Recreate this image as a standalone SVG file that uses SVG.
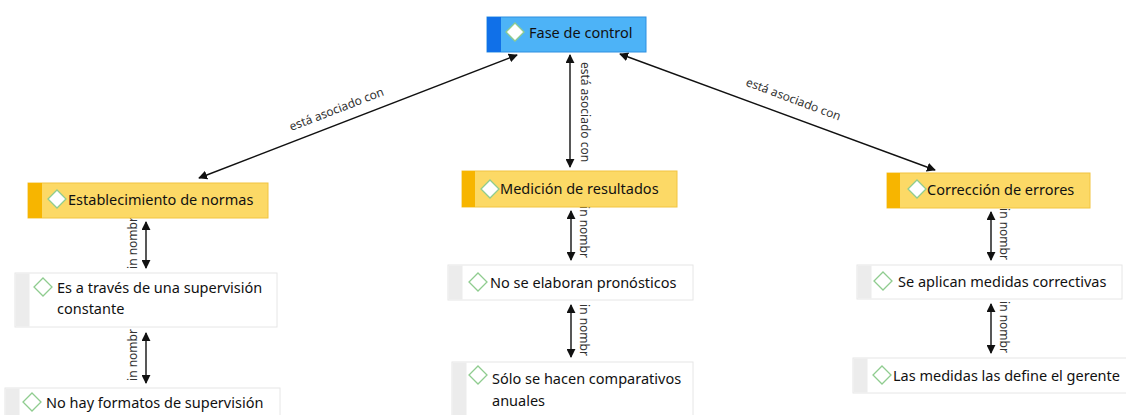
<svg xmlns="http://www.w3.org/2000/svg" width="1126" height="415" viewBox="0 0 1126 415">
<defs>
<marker id="ah" viewBox="0 0 10 10" refX="9" refY="5" markerWidth="9" markerHeight="9" markerUnits="userSpaceOnUse" orient="auto-start-reverse">
<path d="M0,0 L10,5 L0,10 z" fill="#111"/>
</marker>
</defs>
<style>
text{font-family:"Noto Sans","Open Sans","Liberation Sans",sans-serif}
.t{font-size:14.5px;fill:#111}
.l{font-size:12px;fill:#333}
.blue{fill:#4db3f7;stroke:#2f8fe0;stroke-width:1}
.bstrip{fill:#1070e8}
.yel{fill:#fcd966;stroke:#f2c440;stroke-width:1}
.ystrip{fill:#f7b500}
.wht{fill:#ffffff;stroke:#e6e6e6;stroke-width:1}
.wstrip{fill:#ececec}
.dia{fill:#ffffff;stroke:#8fcc8f;stroke-width:1.3}
.c{stroke:#111;stroke-width:1.4;fill:none;marker-start:url(#ah);marker-end:url(#ah)}
</style>
<rect width="1126" height="415" fill="#ffffff"/>
<g id="connectors">
<line class="c" x1="517" y1="55" x2="199" y2="178"/>
<text class="l" transform="translate(338,113) rotate(-21)" text-anchor="middle">está asociado con</text>
<line class="c" x1="570" y1="55" x2="570" y2="167"/>
<text class="l" transform="translate(581,112) rotate(90)" text-anchor="middle">está asociado con</text>
<line class="c" x1="620" y1="54" x2="935" y2="170"/>
<text class="l" transform="translate(792,103) rotate(20.5)" text-anchor="middle">está asociado con</text>
<line class="c" x1="146" y1="222" x2="146" y2="268"/>
<text class="l" transform="translate(137,243) rotate(-90)" text-anchor="middle">in nombr</text>
<line class="c" x1="146" y1="333" x2="146" y2="383"/>
<text class="l" transform="translate(137,355) rotate(-90)" text-anchor="middle">in nombr</text>
<line class="c" x1="571" y1="211" x2="571" y2="260"/>
<text class="l" transform="translate(580,232) rotate(90)" text-anchor="middle">in nombr</text>
<line class="c" x1="571" y1="305" x2="571" y2="357"/>
<text class="l" transform="translate(580,330) rotate(90)" text-anchor="middle">in nombr</text>
<line class="c" x1="991" y1="212" x2="991" y2="260"/>
<text class="l" transform="translate(1000,234) rotate(90)" text-anchor="middle">in nombr</text>
<line class="c" x1="991" y1="304" x2="991" y2="353"/>
<text class="l" transform="translate(1000,327) rotate(90)" text-anchor="middle">in nombr</text>
</g>
<g id="fase">
<rect class="blue" x="487" y="17" width="159" height="35"/>
<rect class="bstrip" x="487" y="17" width="14" height="35"/>
<path class="dia" d="M515,23 L524,32 L515,41 L506,32 z"/>
<text class="t" x="529" y="38">Fase de control</text>
</g>
<g id="establecimiento">
<rect class="yel" x="28" y="183" width="240" height="35"/>
<rect class="ystrip" x="28" y="183" width="14" height="35"/>
<path class="dia" d="M57,190 L66,199 L57,208 L48,199 z"/>
<text class="t" x="68" y="205">Establecimiento de normas</text>
</g>
<g id="medicion">
<rect class="yel" x="462" y="171" width="215" height="36"/>
<rect class="ystrip" x="462" y="171" width="13" height="36"/>
<path class="dia" d="M490,180 L499,189 L490,198 L481,189 z"/>
<text class="t" x="500" y="194">Medición de resultados</text>
</g>
<g id="correccion">
<rect class="yel" x="887" y="173" width="203" height="35"/>
<rect class="ystrip" x="887" y="173" width="13" height="35"/>
<path class="dia" d="M917,180 L926,189 L917,198 L908,189 z"/>
<text class="t" x="927" y="195">Corrección de errores</text>
</g>
<g id="supervision">
<rect class="wht" x="15" y="273" width="262" height="54"/>
<rect class="wstrip" x="15.5" y="273.5" width="14" height="53"/>
<path class="dia" d="M43,278 L52,287 L43,296 L34,287 z"/>
<text class="t" x="57" y="293">Es a través de una supervisión</text>
<text class="t" x="57" y="314">constante</text>
</g>
<g id="formatos">
<rect class="wht" x="5" y="388" width="275" height="40"/>
<rect class="wstrip" x="5.5" y="388.5" width="14" height="39"/>
<path class="dia" d="M32,393 L41,402 L32,411 L23,402 z"/>
<text class="t" x="46" y="408">No hay formatos de supervisión</text>
</g>
<g id="pronosticos">
<rect class="wht" x="448" y="265" width="245" height="35"/>
<rect class="wstrip" x="448.5" y="265.5" width="14" height="34"/>
<path class="dia" d="M478,273 L487,282 L478,291 L469,282 z"/>
<text class="t" x="490" y="288">No se elaboran pronósticos</text>
</g>
<g id="comparativos">
<rect class="wht" x="452" y="362" width="241" height="60"/>
<rect class="wstrip" x="452.5" y="362.5" width="14" height="59"/>
<path class="dia" d="M478,366 L487,375 L478,384 L469,375 z"/>
<text class="t" x="492" y="384">Sólo se hacen comparativos</text>
<text class="t" x="492" y="406">anuales</text>
</g>
<g id="correctivas">
<rect class="wht" x="857" y="265" width="265" height="34"/>
<rect class="wstrip" x="857.5" y="265.5" width="14" height="33"/>
<path class="dia" d="M883,272 L892,281 L883,290 L874,281 z"/>
<text class="t" x="898" y="287">Se aplican medidas correctivas</text>
</g>
<g id="gerente">
<rect class="wht" x="853" y="358" width="275" height="35"/>
<rect class="wstrip" x="853.5" y="358.5" width="14" height="34"/>
<path class="dia" d="M882,366 L891,375 L882,384 L873,375 z"/>
<text class="t" x="893" y="381">Las medidas las define el gerente</text>
</g>
</svg>
